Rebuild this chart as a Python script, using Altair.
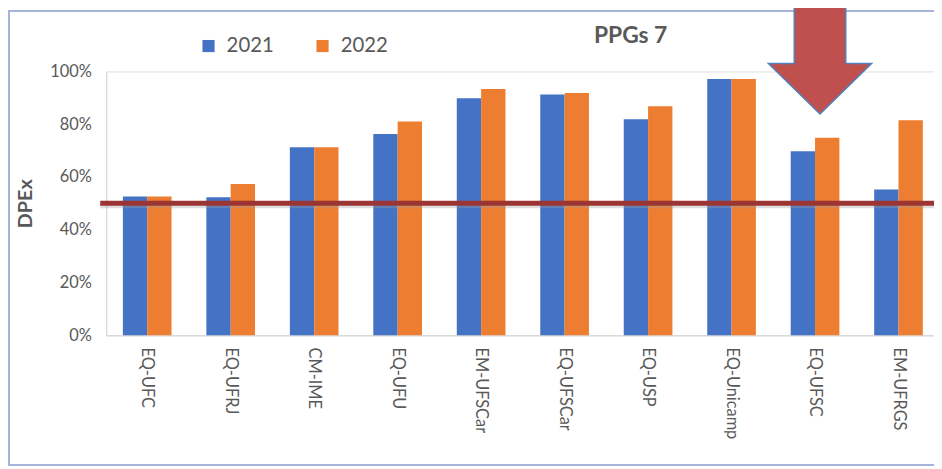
import altair as alt
import pandas as pd

categories = ["EQ-UFC", "EQ-UFRJ", "CM-IME", "EQ-UFU", "EM-UFSCar",
              "EQ-UFSCar", "EQ-USP", "EQ-Unicamp", "EQ-UFSC", "EM-UFRGS"]
years = ["2021", "2022"]
values_2021 = [52.6, 52.3, 71.3, 76.3, 89.8, 91.3, 81.9, 97.1, 69.7, 55.2]
values_2022 = [52.6, 57.3, 71.3, 81.0, 93.3, 91.8, 86.8, 97.1, 74.9, 81.5]
threshold = [50]
arrow_target = ["EQ-UFSC"]
arrow_level = [106.4]
chart_title = ["PPGs 7"]
colors = ["#4472C4", "#ED7D31"]

rows = []
for c, a, b in zip(categories, values_2021, values_2022):
    rows.append({"cat": c, "year": years[0], "value": a})
    rows.append({"cat": c, "year": years[1], "value": b})
df = pd.DataFrame(rows)

W, H = 835, 266
GRAY = "#595959"
FONT = "Lato"

xscale = alt.Scale(domain=categories, paddingInner=0.417, paddingOuter=0.167, align=0.6)
yscale = alt.Scale(domain=[0, 100], nice=False)

bars = alt.Chart(df).mark_bar().encode(
    x=alt.X("cat:N", scale=xscale, sort=categories,
            axis=alt.Axis(title=None, labelAngle=90, labelAlign="left", labelBaseline="middle",
                          labelFontSize=16.5, labelColor=GRAY, labelFont=FONT, labelPadding=12,
                          ticks=False, domainColor="#D9D9D9", domainWidth=1.5)),
    xOffset=alt.XOffset("year:N", scale=alt.Scale(paddingInner=0, paddingOuter=0)),
    y=alt.Y("value:Q", scale=yscale,
            axis=alt.Axis(title="DPEx", values=[0, 20, 40, 60, 80, 100],
                          labelExpr="datum.value + '%'", grid=False, ticks=False,
                          labelFontSize=16.5, labelColor=GRAY, labelFont=FONT, labelPadding=15,
                          titleFontSize=20, titleFont=FONT, titleFontWeight="bold",
                          titleColor=GRAY, titlePadding=14,
                          domainColor="#D9D9D9", domainWidth=1.2)),
    color=alt.Color("year:N", scale=alt.Scale(domain=years, range=colors),
                    legend=alt.Legend(title=None, orient="none", direction="horizontal",
                                      legendX=93, legendY=-36, symbolType="square",
                                      symbolSize=150, symbolStrokeWidth=0,
                                      labelFontSize=20.5, labelColor=GRAY, labelFont=FONT,
                                      labelOffset=8, columnPadding=38)),
)

thr_df = pd.DataFrame({"y": threshold})
shadow = alt.Chart(thr_df).mark_rule(color="#9E9E9E", strokeWidth=4, opacity=0.35, yOffset=3).encode(
    y=alt.Y("y:Q", scale=yscale), x=alt.value(-6), x2=alt.value(W))
rule = alt.Chart(thr_df).mark_rule(color="#9B3533", strokeWidth=5).encode(
    y=alt.Y("y:Q", scale=yscale), x=alt.value(-6), x2=alt.value(W))

arrow_path = "M -0.433 -1.2 L 0.433 -1.2 L 0.433 0.15 L 0.867 0.15 L 0 1 L -0.867 0.15 L -0.433 0.15 Z"
arrow_df = pd.DataFrame({"cat": arrow_target, "y": arrow_level})
arrow = alt.Chart(arrow_df).mark_point(shape=arrow_path, size=14400, filled=True,
                                       fill="#C0504D", stroke="#4F81BD", strokeWidth=1.5,
                                       opacity=1, xOffset=5).encode(
    x=alt.X("cat:N", scale=xscale, sort=categories),
    y=alt.Y("y:Q", scale=yscale))

frame = alt.Chart(pd.DataFrame({"a": [0]})).mark_rect(fill=None, filled=False, stroke="#A6B3DA",
                                                       strokeWidth=2).encode(
    x=alt.value(-98), x2=alt.value(W + 10), y=alt.value(-61), y2=alt.value(397))

title = alt.Chart(pd.DataFrame({"t": chart_title})).mark_text(
    font=FONT, fontSize=23, fontWeight="bold", color=GRAY, align="center", baseline="middle"
).encode(text="t:N", x=alt.value(529), y=alt.value(-36))

chart = alt.layer(frame, bars, shadow, rule, arrow, title).properties(
    width=W, height=H,
    autosize=alt.AutoSizeParams(type="none"),
    padding={"left": 99, "top": 62, "right": 0, "bottom": 133},
).configure_view(stroke=None).configure(background="white")

chart.save("out.html", embed_options={"renderer": "svg", "actions": False})
